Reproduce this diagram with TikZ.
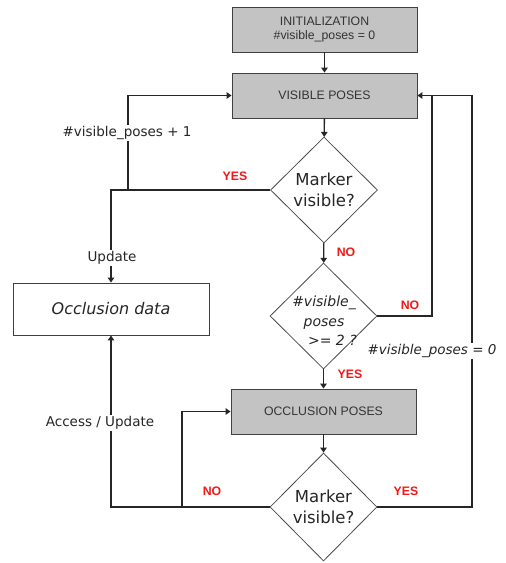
\documentclass[tikz,border=0pt]{standalone}
\usepackage{fontspec}
\setmainfont{Liberation Sans}
\newfontfamily\comic{DejaVu Sans}
\usetikzlibrary{arrows.meta,shapes.geometric}
\definecolor{boxgray}{HTML}{C3C3C3}
\definecolor{boxline}{HTML}{404040}
\definecolor{lblred}{HTML}{F01818}
\begin{document}
\begin{tikzpicture}[x=1pt,y=-1pt,
  procbox/.style={draw=boxline,line width=0.9pt,fill=boxgray,minimum width=185pt,minimum height=45pt,inner sep=0pt,font=\fontsize{12.3}{14.5}\selectfont,text=black!80,align=center},
  databox/.style={draw=boxline,line width=0.9pt,fill=white,minimum width=196pt,minimum height=52pt,inner sep=0pt,font=\comic\itshape\fontsize{16}{18}\selectfont,text=black!85},
  decision/.style={diamond,draw=black!70,line width=0.8pt,fill=white,minimum width=107pt,minimum height=106pt,inner sep=0pt,align=center,font=\comic\fontsize{16.5}{21}\selectfont,text=black!85},
  conn/.style={line width=1.3pt,black!85},
  arr/.style={conn,-{Triangle[length=5pt,width=6.5pt]}},
  redlbl/.style={font=\bfseries\fontsize{12.3}{14}\selectfont,text=lblred,inner sep=1pt},
  cmt/.style={font=\comic\fontsize{13.5}{16}\selectfont,text=black!85,fill=white,inner sep=1.5pt},
  cmti/.style={font=\comic\itshape\fontsize{13.5}{16}\selectfont,text=black!85,fill=white,inner sep=1.5pt}
]
\useasboundingbox (0,0) rectangle (506,563);

\node[procbox] (init) at (324.5,29.5) {INITIALIZATION\\\#visible\_poses = 0};
\node[procbox] (vis) at (324.5,95.5) {VISIBLE POSES};
\node[decision] (d1) at (324,190) {Marker\\visible?};
\node[decision] (d2) at (323.5,316) {};
\node[align=center,inner sep=0pt,font=\comic\itshape\fontsize{14}{19.5}\selectfont,text=black!85] (d2t) at (324,321) {\#visible\_\\poses\\\hspace*{1.2em}>= 2 ?};
\node[procbox] (occ) at (323.5,411.5) {OCCLUSION POSES};
\node[decision,minimum height=108pt] (d3) at (323.5,507) {Marker\\visible?};
\node[databox] (odata) at (111,309) {Occlusion data};

\coordinate (j1) at (128,190);
\coordinate (c1) at (111,190);
\coordinate (c2) at (432,316);
\coordinate (c3) at (432,95.5);
\coordinate (c4) at (472,507);
\coordinate (c5) at (111,507);
\coordinate (j2) at (182,507);

\draw[arr] (init) -- (vis);
\draw[arr] (vis) -- (d1);
\draw[arr] (d1) -- (d2);
\draw[arr] (d2) -- (occ);
\draw[arr] (occ) -- (d3);

\draw[arr] (d1.west) -- (c1) -- (odata.north);
\draw[arr] (j1) |- (vis.west);
\draw[arr] (d2.east) -- (c2) -- (c3) -- (vis.east);
\draw[conn] (d3.east) -- (c4) |- (c3);
\draw[arr] (d3.west) -- (c5) -- (odata.south);
\draw[arr] (j2) |- (occ.west);

\node[cmt] (l1) at (127,133) {\#visible\_poses + 1};
\node[cmt] (l2) at (112,258) {Update};
\node[cmt] (l3) at (100,423) {Access / Update};
\node[cmti] (l4) at (432,351) {\#visible\_poses = 0};

\node[redlbl] (y1) at (235,176) {YES};
\node[redlbl] (n1) at (346,252) {NO};
\node[redlbl] (n2) at (410,305) {NO};
\node[redlbl] (y2) at (350,374) {YES};
\node[redlbl] (n3) at (212,491) {NO};
\node[redlbl] (y3) at (406,491) {YES};
\end{tikzpicture}
\end{document}
